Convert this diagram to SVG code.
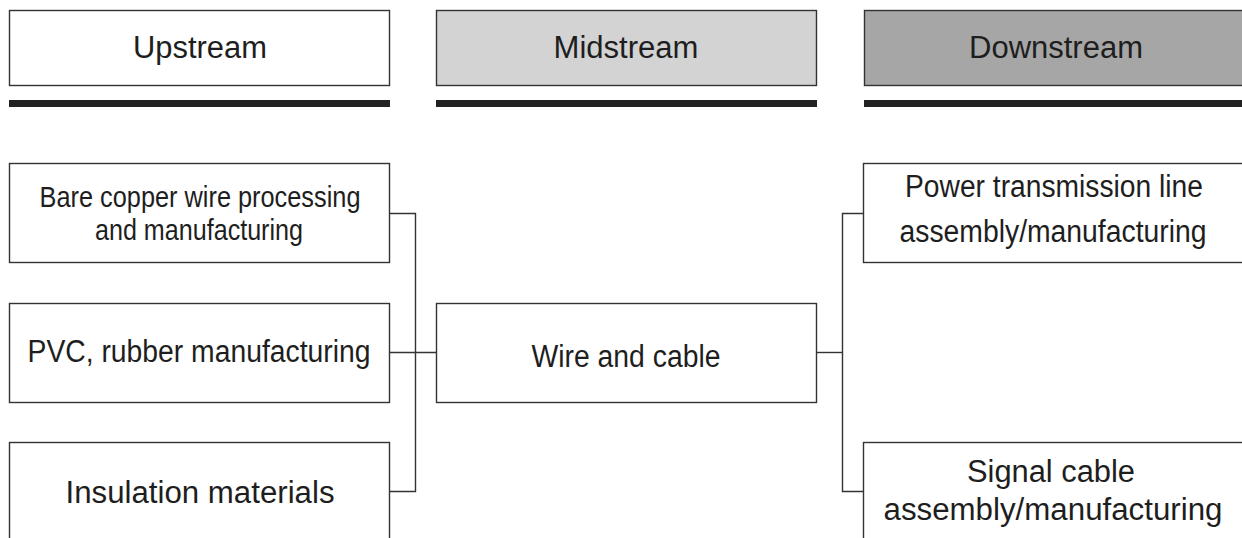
<svg xmlns="http://www.w3.org/2000/svg" width="1242" height="538" viewBox="0 0 1242 538">
<style>
.box{stroke:#333;stroke-width:1.4;fill:#fff}
.bar{fill:#222}
.t{font-family:"Liberation Sans",Arial,sans-serif;font-size:31px;fill:#1e1e1e;text-anchor:middle}
.s{font-size:29px}
.c{fill:none;stroke:#333;stroke-width:1.4}
</style>
<rect width="1242" height="538" fill="#fff"/>
<g id="upstream">
<rect class="box" x="9.5" y="10.5" width="380" height="75"/>
<rect class="bar" x="9" y="100" width="381" height="7"/>
<text class="t" x="200" y="58" textLength="134" lengthAdjust="spacingAndGlyphs">Upstream</text>
</g>
<g id="midstream">
<rect class="box" x="436.5" y="10.5" width="380" height="75" style="fill:#d3d3d3"/>
<rect class="bar" x="436" y="100" width="381" height="7"/>
<text class="t" x="626" y="58" textLength="145" lengthAdjust="spacingAndGlyphs">Midstream</text>
</g>
<g id="downstream">
<rect class="box" x="864.5" y="10.5" width="390" height="75" style="fill:#a6a6a6"/>
<rect class="bar" x="864" y="100" width="390" height="7"/>
<text class="t" x="1056" y="58" textLength="174" lengthAdjust="spacingAndGlyphs">Downstream</text>
</g>
<g id="bare-copper">
<rect class="box" x="9.5" y="163.5" width="380" height="99"/>
<text class="t s" x="200" y="207" textLength="321" lengthAdjust="spacingAndGlyphs">Bare copper wire processing</text>
<text class="t s" x="199" y="240" textLength="208" lengthAdjust="spacingAndGlyphs">and manufacturing</text>
</g>
<g id="pvc">
<rect class="box" x="9.5" y="303.5" width="380" height="99"/>
<text class="t" x="199" y="362" textLength="343" lengthAdjust="spacingAndGlyphs">PVC, rubber manufacturing</text>
</g>
<g id="insulation">
<rect class="box" x="9.5" y="442.5" width="380" height="110"/>
<text class="t" x="200" y="503" textLength="269" lengthAdjust="spacingAndGlyphs">Insulation materials</text>
</g>
<g id="wire-cable">
<rect class="box" x="436.5" y="303.5" width="380" height="99"/>
<text class="t" x="626" y="367" textLength="189" lengthAdjust="spacingAndGlyphs">Wire and cable</text>
</g>
<g id="power">
<rect class="box" x="863.5" y="163.5" width="390" height="99"/>
<text class="t" x="1054" y="197" textLength="298" lengthAdjust="spacingAndGlyphs">Power transmission line</text>
<text class="t" x="1053" y="242" textLength="307" lengthAdjust="spacingAndGlyphs">assembly/manufacturing</text>
</g>
<g id="signal">
<rect class="box" x="863.5" y="442.5" width="390" height="110"/>
<text class="t" x="1051" y="482" textLength="168" lengthAdjust="spacingAndGlyphs">Signal cable</text>
<text class="t" x="1053" y="520" textLength="339" lengthAdjust="spacingAndGlyphs">assembly/manufacturing</text>
</g>
<g id="connectors">
<path class="c" d="M390 213.5H415.5V491.5H390"/>
<path class="c" d="M390 352.5H436"/>
<path class="c" d="M817 352.5H842.5"/>
<path class="c" d="M863 213.5H842.5V491.5H863"/>
</g>
</svg>
